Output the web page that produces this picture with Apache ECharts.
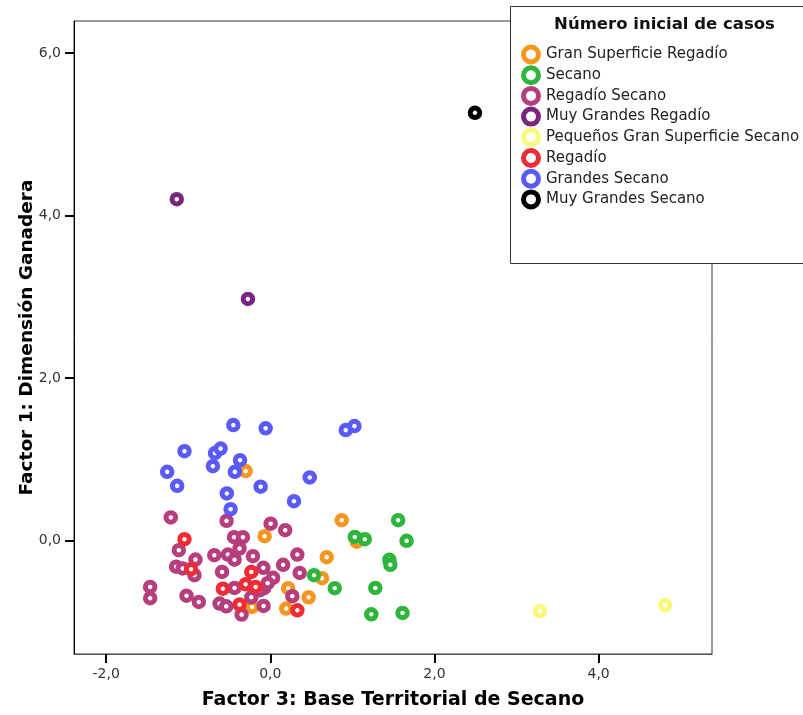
<!DOCTYPE html>
<html>
<head>
<meta charset="utf-8">
<script src="https://cdn.jsdelivr.net/npm/echarts@6/dist/echarts.min.js"></script>
<style>html,body{margin:0;padding:0;background:#fff}#c{width:803px;height:715px}</style>
</head>
<body>
<div id="c"></div>
<script>
const categories = ['Gran Superficie Regadío','Secano','Regadío Secano','Muy Grandes Regadío','Pequeños Gran Superficie Secano','Regadío','Grandes Secano','Muy Grandes Secano'];
const xTicks = [-2, 0, 2, 4];
const yTicks = [0, 2, 4, 6];

const granSuperficieRegadio = [[-0.301,0.856],[-0.070,0.055],[0.870,0.253],[1.053,-0.012],[0.687,-0.203],[0.630,-0.462],[0.217,-0.585],[0.467,-0.696],[0.193,-0.835],[-0.222,-0.815]];
const secano = [[1.029,0.047],[1.151,0.018],[1.557,0.252],[1.660,-0.002],[1.450,-0.234],[1.462,-0.296],[0.532,-0.425],[0.785,-0.585],[1.279,-0.581],[1.230,-0.905],[1.611,-0.889]];
const regadioSecano = [[-1.213,0.286],[-0.533,0.244],[0.004,0.209],[0.181,0.129],[-0.442,0.043],[-0.334,0.043],[-1.115,-0.117],[-0.375,-0.096],[-0.683,-0.179],[-0.517,-0.170],[-0.436,-0.234],[-0.212,-0.191],[-0.912,-0.232],[-1.147,-0.320],[-1.067,-0.342],[-0.924,-0.425],[-0.588,-0.384],[-0.085,-0.333],[0.329,-0.170],[0.156,-0.296],[0.358,-0.397],[0.034,-0.456],[-0.076,-0.585],[-0.131,-0.610],[-0.033,-0.523],[-1.464,-0.569],[-1.464,-0.708],[-1.021,-0.677],[-0.871,-0.754],[-0.436,-0.581],[-0.619,-0.773],[-0.537,-0.807],[-0.232,-0.696],[-0.082,-0.803],[0.268,-0.683],[-0.350,-0.909]];
const muyGrandesRegadio = [[-1.140,4.202],[-0.273,2.974]];
const pequenosGranSuperficieSecano = [[3.286,-0.865],[4.811,-0.794]];
const regadio = [[-1.046,0.018],[-0.966,-0.351],[-0.578,-0.591],[-0.375,-0.786],[-0.301,-0.536],[-0.179,-0.569],[-0.232,-0.384],[0.329,-0.856]];
const grandesSecano = [[-0.451,1.422],[-0.057,1.382],[0.919,1.361],[1.025,1.410],[-0.674,1.078],[-0.606,1.133],[-1.046,1.102],[-0.369,0.991],[-0.700,0.917],[-0.432,0.847],[-1.257,0.847],[-1.135,0.675],[-0.118,0.665],[0.480,0.778],[-0.530,0.581],[-0.484,0.388],[0.288,0.486]];
const muyGrandesSecano = [[2.493,5.265]];

const seriesData = [granSuperficieRegadio, secano, regadioSecano, muyGrandesRegadio, pequenosGranSuperficieSecano, regadio, grandesSecano, muyGrandesSecano];
const colors = ['#F7961E','#2DB53C','#B63E7C','#7A2580','#F8F87A','#EE2C36','#5A5AF8','#000000'];

const fmt = v => v.toFixed(1).replace('.', ',');
const chart = echarts.init(document.getElementById('c'), null, {renderer:'canvas'});
chart.setOption({
  animation: false,
  backgroundColor: '#fff',
  grid: {left: 74, right: 91, top: 21, bottom: 61, show: true, borderColor: '#333', borderWidth: 1, backgroundColor: 'transparent', outerBoundsMode: 'none'},
  xAxis: {
    type: 'value', min: -2.392, max: 5.381,
    name: 'Factor 3: Base Territorial de Secano', nameLocation: 'middle', nameGap: 37, nameMoveOverlap: false,
    nameTextStyle: {fontFamily: 'DejaVu Sans', fontWeight: 'bold', fontSize: 19, color: '#000', verticalAlign: 'top'},
    axisLine: {show: true, onZero: false, lineStyle: {color: '#555', width: 1}},
    axisTick: {show: true, length: 9, lineStyle: {color: '#000', width: 2}, customValues: xTicks},
    axisLabel: {customValues: xTicks, formatter: fmt, fontFamily: 'DejaVu Sans', fontSize: 14, color: '#333', margin: 13},
    splitLine: {show: false}
  },
  yAxis: {
    type: 'value', min: -1.394, max: 6.394,
    name: 'Factor 1: Dimensión Ganadera', nameLocation: 'middle', nameGap: 37, nameRotate: 90, nameMoveOverlap: false,
    nameTextStyle: {fontFamily: 'DejaVu Sans', fontWeight: 'bold', fontSize: 18.5, color: '#000'},
    axisLine: {show: true, onZero: false, lineStyle: {color: '#000', width: 1}},
    axisTick: {show: true, length: 9, lineStyle: {color: '#000', width: 2}, customValues: yTicks},
    axisLabel: {customValues: yTicks, formatter: fmt, fontFamily: 'DejaVu Sans', fontSize: 14, color: '#333', margin: 13},
    splitLine: {show: false}
  },
  legend: {
    show: true, orient: 'vertical', left: 516, top: 39.5, itemWidth: 20, itemHeight: 15, itemGap: 0.7,
    icon: 'circle', z: 20,
    itemStyle: {color: '#fff', borderWidth: 5},
    textStyle: {fontFamily: 'DejaVu Sans', fontSize: 15, color: '#222'},
    data: categories
  },
  graphic: [
    {type: 'rect', z: 10, shape: {x: 510.5, y: 6.5, width: 300, height: 257}, style: {fill: '#fff', stroke: '#333', lineWidth: 1}},
    {type: 'text', z: 11, x: 664.5, y: 25, style: {text: 'Número inicial de casos', textAlign: 'center', textVerticalAlign: 'middle', font: 'bold 16.5px "DejaVu Sans"', fill: '#111'}}
  ],
  series: categories.map((name, i) => ({
    name: name, type: 'scatter', data: seriesData[i],
    symbol: 'circle', symbolSize: 9.5,
    itemStyle: {color: '#fff', borderColor: colors[i], borderWidth: 5, opacity: 1},
    emphasis: {disabled: true}
  }))
});
</script>
</body>
</html>
